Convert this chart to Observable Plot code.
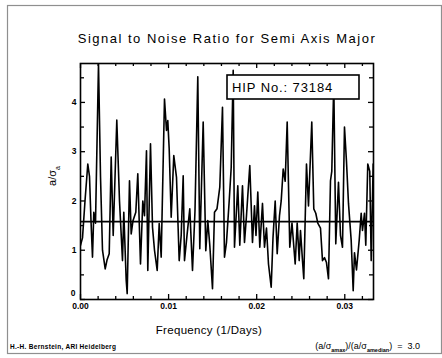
<!DOCTYPE html>
<html><head><meta charset="utf-8">
<script src="https://cdn.jsdelivr.net/npm/d3@7"></script>
<script src="https://cdn.jsdelivr.net/npm/@observablehq/plot@0.6"></script>
<style>
body{margin:0;background:#fff;}
#chart{position:relative;width:442px;height:358px;}
</style>
</head><body><div id="chart"></div>
<script>
const titleText = "Signal to Noise Ratio for Semi Axis Major";
const xLabelText = "Frequency (1/Days)";
const hipLabel = "HIP No.: 73184";
const creditText = "H.-H. Bernstein, ARI Heidelberg";

// frequency in units of 1e-3 (1/Days)
const freqMilli = [0,0.227,0.511,0.829,1.022,1.192,1.362,1.510,1.703,2.043,2.270,2.497,2.804,3.008,3.258,3.485,3.712,4.120,4.427,4.767,4.915,5.187,5.301,5.562,5.755,5.959,6.277,6.504,6.810,7.072,7.264,7.491,7.639,7.946,8.173,8.400,8.706,8.933,9.160,9.535,9.762,9.909,10.068,10.295,10.590,10.897,11.203,11.430,11.657,11.805,12.089,12.406,12.713,12.997,13.314,13.541,13.927,14.222,14.449,14.676,14.983,15.210,15.494,15.812,16.118,16.345,16.572,16.879,17.106,17.333,17.480,17.855,18.082,18.388,18.615,18.842,19.217,19.523,19.750,19.921,20.125,20.352,20.658,20.885,21.112,21.339,21.646,21.850,22.100,22.327,22.588,22.781,23.008,23.235,23.462,23.757,24.007,24.370,24.597,24.824,24.972,25.199,25.346,25.653,25.880,26.254,26.481,26.708,26.935,27.242,27.469,27.696,27.923,28.150,28.377,28.524,28.751,28.978,29.285,29.512,29.739,29.966,30.193,30.420,30.727,30.954,31.101,31.328,31.635,31.862,32.009,32.236,32.384,32.610,32.837,32.997,33.224,33.315];
const snr = [1.10,1.25,2.0,2.75,2.5,1.6,0.86,1.77,1.55,4.78,2.5,1.0,0.62,0.8,0.93,2.89,1.3,3.64,2.0,0.79,1.77,0.39,0.12,2.41,1.33,1.6,1.77,2.55,0.72,2.0,1.7,3.02,0.59,3.16,1.47,1.0,0.59,1.54,0.86,4.07,3.43,3.63,3.06,1.67,2.92,2.48,0.79,1.3,2.51,0.79,1.3,1.84,0.59,1.8,4.52,1.03,3.6,0.99,1.6,1.1,0.22,1.77,1.84,2.28,3.9,0.86,1.16,2.0,2.68,4.65,1.06,2.31,1.1,2.31,1.16,1.7,2.72,1.16,1.9,1.3,2.18,1.06,1.95,1.06,1.45,0.72,0.25,1.25,2.0,0.93,1.7,2.0,2.65,2.4,3.6,1.06,1.55,0.72,1.55,0.79,1.4,0.79,0.42,2.75,1.9,3.6,1.84,1.75,1.55,1.45,0.79,0.85,0.75,0.42,2.41,2.6,4.4,1.13,2.38,1.3,1.06,3.5,2.8,1.95,1.2,0.18,0.95,0.6,1.2,1.75,1.4,1.75,1.1,2.75,2.6,0.79,2.75,2.6];
const medianSnr = 1.58;

const xDomain = [0, 0.03326];
const yDomain = [0, 4.79];
const xMajorTicks = [0, 0.01, 0.02, 0.03];
const xMinorTicks = [0.002,0.004,0.006,0.008,0.012,0.014,0.016,0.018,0.022,0.024,0.026,0.028,0.032];
const yMajorTicks = [0, 1, 2, 3, 4];
const yMinorTicks = [0.5, 1.5, 2.5, 3.5, 4.5];

const data = freqMilli.map((f, i) => ({freq: f / 1000, snr: snr[i]}));

const W = 442, H = 358, mL = 80, mR = 69, mT = 63, mB = 59;
const fw = W - mL - mR, fh = H - mT - mB;
const font = "'Liberation Sans', Arial, sans-serif";

const plot = Plot.plot({
  width: W, height: H,
  marginLeft: mL, marginRight: mR, marginTop: mT, marginBottom: mB,
  style: {fontFamily: font, background: "white", color: "black"},
  x: {domain: xDomain, axis: null},
  y: {domain: yDomain, axis: null},
  marks: [
    Plot.line(data, {x: "freq", y: "snr", stroke: "black", strokeWidth: 1.6, clip: true}),
    Plot.ruleY([medianSnr], {stroke: "black", strokeWidth: 1.6}),
    Plot.frame({stroke: "black", strokeWidth: 1.6}),
    // inward ticks, bottom & top
    Plot.tickX(xMajorTicks, {x: d => d, insetTop: fh - 5, stroke: "black", strokeWidth: 1.3}),
    Plot.tickX(xMinorTicks, {x: d => d, insetTop: fh - 3, stroke: "black", strokeWidth: 1.3}),
    Plot.tickX(xMajorTicks, {x: d => d, insetBottom: fh - 5, stroke: "black", strokeWidth: 1.3}),
    Plot.tickX(xMinorTicks, {x: d => d, insetBottom: fh - 3, stroke: "black", strokeWidth: 1.3}),
    // inward ticks, left & right
    Plot.tickY(yMajorTicks, {y: d => d, insetRight: fw - 5, stroke: "black", strokeWidth: 1.3}),
    Plot.tickY(yMinorTicks, {y: d => d, insetRight: fw - 4, stroke: "black", strokeWidth: 1.3}),
    Plot.tickY(yMajorTicks, {y: d => d, insetLeft: fw - 5, stroke: "black", strokeWidth: 1.3}),
    Plot.tickY(yMinorTicks, {y: d => d, insetLeft: fw - 4, stroke: "black", strokeWidth: 1.3}),
    // tick labels
    Plot.text(xMajorTicks, {x: d => d, frameAnchor: "bottom", lineAnchor: "top", dy: 3,
      text: d => d3.format(".2f")(d), fontSize: 8.5, fontWeight: "bold", fill: "black"}),
    Plot.text(yMajorTicks, {y: d => d, frameAnchor: "left", textAnchor: "end", dx: -4,
      text: d => String(d), fontSize: 8.5, fontWeight: "bold", fill: "black"})
  ]
});

const svg = d3.select(plot);
// nudge the y "0" label up-left so it clears the "0.00" label (as in the reference)
svg.selectAll("text").filter(function() { return this.textContent === "0"; })
  .attr("transform", function() { return (d3.select(this).attr("transform") || "") + " translate(-1,-6)"; });

// outer border
svg.insert("rect", ":first-child")
  .attr("x", 7.5).attr("y", 5.5).attr("width", 434).attr("height", 348)
  .attr("fill", "white").attr("stroke", "#8f8f8f").attr("stroke-width", 1.2);

// title
svg.append("text").attr("x", 227).attr("y", 43).attr("text-anchor", "middle")
  .style("font-family", font).style("font-size", "13px").style("letter-spacing", "1.5px")
  .attr("fill", "black").text(titleText);

// x label
svg.append("text").attr("x", 209).attr("y", 334).attr("text-anchor", "middle")
  .style("font-family", font).style("font-size", "11.5px").style("letter-spacing", "0.3px")
  .attr("fill", "black").text(xLabelText);

// y label (rotated)
const yl = svg.append("text").attr("transform", "translate(56,176) rotate(-90)")
  .attr("text-anchor", "middle")
  .style("font-family", font).style("font-size", "11px").attr("fill", "black");
yl.append("tspan").text("a/σ");
yl.append("tspan").attr("baseline-shift", "sub").style("font-size", "7px").text("a");

// HIP box
svg.append("rect").attr("x", 227).attr("y", 75).attr("width", 132).attr("height", 24)
  .attr("fill", "white").attr("stroke", "black").attr("stroke-width", 1.6);
svg.append("text").attr("x", 232).attr("y", 91.5).attr("text-anchor", "start")
  .style("font-family", font).style("font-size", "13px").style("letter-spacing", "0.9px")
  .attr("fill", "black").text(hipLabel);

// footers
svg.append("text").attr("x", 10).attr("y", 349).attr("text-anchor", "start")
  .style("font-family", font).style("font-size", "6.5px").style("font-weight", "bold")
  .style("letter-spacing", "0.3px")
  .attr("fill", "black").text(creditText);

const ft = svg.append("text").attr("x", 420).attr("y", 349).attr("text-anchor", "end")
  .style("font-family", font).style("font-size", "9px").attr("fill", "black");
ft.append("tspan").text("(a/σ");
ft.append("tspan").attr("baseline-shift", "sub").style("font-size", "5.5px").style("font-weight", "bold").text("amax");
ft.append("tspan").attr("baseline-shift", "0").text(")/(a/σ");
ft.append("tspan").attr("baseline-shift", "sub").style("font-size", "5.5px").style("font-weight", "bold").text("amedian");
ft.append("tspan").attr("baseline-shift", "0").text(")  =  3.0");

document.getElementById("chart").appendChild(plot);
</script>
</body></html>
